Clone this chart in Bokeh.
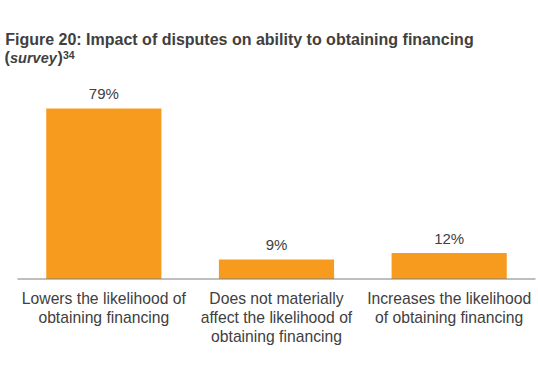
from bokeh.plotting import figure
from bokeh.models import Range1d
from bokeh.core.properties import value as V
from bokeh.embed import file_html
from bokeh.resources import INLINE

categories = ["Lowers the likelihood of\nobtaining financing",
              "Does not materially\naffect the likelihood of\nobtaining financing",
              "Increases the likelihood\nof obtaining financing"]
values = [79, 9, 12]
value_labels = ["79%", "9%", "12%"]
title_line1 = "Figure 20: Impact of disputes on ability to obtaining financing"
title_line2 = [("(", "bold", "16px"), ("survey", "bold italic", "14.5px"), (")", "bold", "16px")]
footnote = "34"

TXT = "#404040"
FONT = V("Liberation Sans")
W, H = 538, 378
X0, BASE = 17.0, 278.5           # px of plot origin
SX = (535 - 17) / len(categories)  # px per category
SY = (278.5 - 108) / 79.0          # px per percent

def px2x(px):
    return (px - X0) / SX

def py2y(py):
    return (BASE - py) / SY

p = figure(width=W, height=H, x_range=Range1d(px2x(0), px2x(W)), y_range=Range1d(py2y(H), py2y(0)),
           output_backend="svg", toolbar_location=None, x_axis_location=None, y_axis_location=None,
           min_border=0, min_border_left=0, min_border_right=0, min_border_top=0, min_border_bottom=0)
p.outline_line_color = None
p.xgrid.visible = False
p.ygrid.visible = False

xc = [i + 0.5 for i in range(len(categories))]
p.vbar(x=xc, top=values, width=0.667, bottom=0, color="#F79B1E", line_color=None)
p.segment(x0=[0], x1=[len(categories)], y0=[0], y1=[0], line_color="#7F7F7F", line_width=1.2)

p.text(x=xc, y=values, text=value_labels, text_align="center", text_baseline="middle",
       y_offset=-15, text_font_size="15px", text_color=TXT, text_font=FONT)

# category labels, one glyph per line
lx, ly, lt = [], [], []
for i, c in enumerate(categories):
    for j, line in enumerate(c.split("\n")):
        lx.append(xc[i])
        ly.append(py2y(297.8 + 19.2 * j))
        lt.append(line)
p.text(x=lx, y=ly, text=lt, text_align="center", text_baseline="middle",
       text_font_size="15.7px", text_color=TXT, text_font=FONT)

# title
p.text(x=[px2x(4.7)], y=[py2y(38.6)], text=[title_line1], text_baseline="middle",
       text_font_size="16px", text_font_style="bold", text_color=TXT, text_font=FONT)
xs = [4.0, 9.5, 57.0]
for (t, st, fs), x in zip(title_line2, xs):
    p.text(x=[px2x(x)], y=[py2y(57.0)], text=[t], text_baseline="middle",
           text_font_size=fs, text_font_style=st, text_color=TXT, text_font=FONT)
p.text(x=[px2x(62.5)], y=[py2y(54.0)], text=[footnote], text_baseline="middle",
       text_font_size="10.5px", text_font_style="bold", text_color=TXT, text_font=FONT)

open("out.html", "w").write(file_html(p, INLINE))
